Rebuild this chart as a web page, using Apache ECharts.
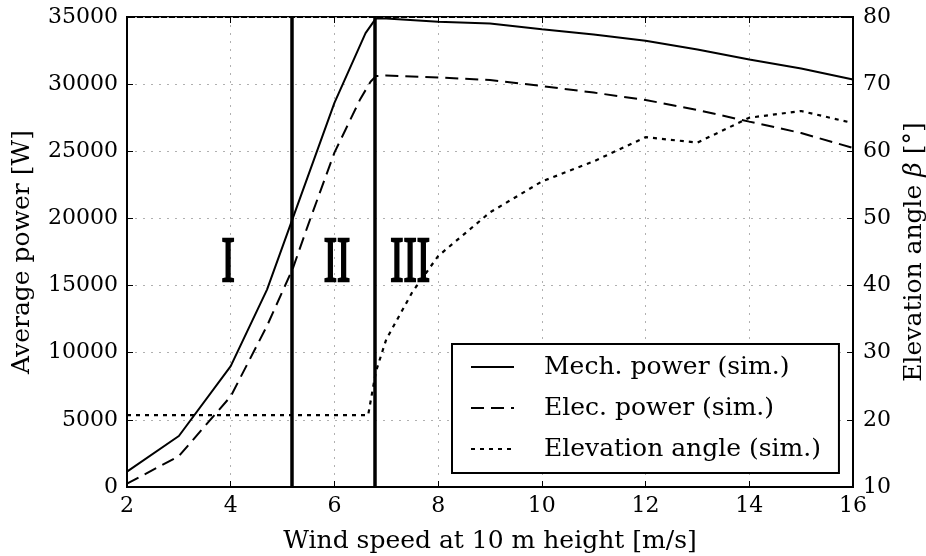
<!DOCTYPE html>
<html>
<head>
<meta charset="utf-8">
<script src="https://cdn.jsdelivr.net/npm/echarts@6/dist/echarts.min.js"></script>
<style>html,body{margin:0;padding:0;background:#fff}#c{width:926px;height:556px}</style>
</head>
<body>
<div id="c"></div>
<script>
// ---- data ----
const mechX = [2, 3, 4, 4.7, 6, 6.6, 6.8, 7, 8, 9, 10, 11, 12, 13, 14, 15, 16];
const mechY = [1150, 3800, 9000, 14700, 28600, 33800, 34900, 34880, 34650, 34520, 34080, 33700, 33230, 32580, 31840, 31170, 30350];
const elecX = [2, 3, 4, 4.7, 5.2, 5.5, 6, 6.5, 6.7, 6.8, 7, 8, 9, 10, 11, 12, 13, 14, 15, 16];
const elecY = [250, 2300, 6750, 12000, 16300, 19600, 24900, 28900, 30200, 30600, 30650, 30500, 30310, 29860, 29370, 28820, 28080, 27210, 26360, 25250];
const elevX = [2, 6.65, 6.8, 7, 7.5, 8, 9, 10, 11, 12, 13, 14, 15, 16];
const elevY = [20.7, 20.7, 27.2, 32, 39, 44.4, 50.9, 55.5, 58.5, 62.1, 61.3, 65, 66, 64.2];
const regimeBounds = [5.17, 6.78];
const regimeLabels = ['I', 'II', 'III'];
const regimeX = [3.95, 6.05, 7.46];
const regimeY = [16600, 16600, 16600];
const seriesNames = ['Mech. power (sim.)', 'Elec. power (sim.)', 'Elevation angle (sim.)'];
const xTicks = {min: 2, max: 16, interval: 2};
const yLeftTicks = {min: 0, max: 35000, interval: 5000};
const yRightTicks = {min: 10, max: 80, interval: 10};

const zip = (xs, ys) => xs.map((x, i) => [x, ys[i]]);
const FONT = 'DejaVu Serif';

const chart = echarts.init(document.getElementById('c'), null, {renderer: 'canvas'});
const grid = {left: 127, right: 73, top: 17, bottom: 69, outerBoundsMode: 'none', containLabel: false,
  show: true, borderColor: '#000', borderWidth: 2, backgroundColor: 'transparent'};
const labelStyle = {color: '#000', fontFamily: FONT, fontSize: 22, formatter: v => String(v)};
const dottedGrid = {show: true, lineStyle: {color: '#b0b0b0', type: [2, 6], width: 1}};
const nameStyle = {color: '#000', fontFamily: FONT, fontSize: 25};

chart.setOption({
  animation: false,
  backgroundColor: '#fff',
  grid: grid,
  legend: {
    data: seriesNames,
    orient: 'vertical',
    left: 452, top: 344,
    padding: [10, 18, 11, 18],
    itemWidth: 43, itemHeight: 14, itemGap: 15,
    borderColor: '#000', borderWidth: 2, borderRadius: 0,
    backgroundColor: '#fff',
    itemStyle: {color: 'rgba(0,0,0,0)', borderColor: 'rgba(0,0,0,0)', borderWidth: 0, opacity: 0},
    textStyle: {color: '#000', fontFamily: FONT, fontSize: 25, lineHeight: 26, padding: [0, 0, 0, 25]}
  },
  xAxis: [{
    type: 'value', min: xTicks.min, max: xTicks.max, interval: xTicks.interval,
    name: 'Wind speed at 10 m height [m/s]', nameLocation: 'middle', nameGap: 42,
    nameTextStyle: nameStyle,
    axisLine: {show: true, lineStyle: {color: '#000', width: 2}},
    axisTick: {show: true, inside: true, length: 6, lineStyle: {color: '#000', width: 1}},
    axisLabel: Object.assign({margin: 8}, labelStyle),
    splitLine: dottedGrid
  }, {
    type: 'value', position: 'top', min: xTicks.min, max: xTicks.max, interval: xTicks.interval,
    axisLine: {show: false},
    axisTick: {show: true, inside: true, length: 6, lineStyle: {color: '#000', width: 1}},
    axisLabel: {show: false}, splitLine: {show: false}
  }],
  yAxis: [{
    type: 'value', position: 'left', min: yLeftTicks.min, max: yLeftTicks.max, interval: yLeftTicks.interval,
    name: 'Average power [W]', nameLocation: 'middle', nameGap: 92,
    nameTextStyle: nameStyle,
    axisLine: {show: true, lineStyle: {color: '#000', width: 2}},
    axisTick: {show: true, inside: true, length: 6, lineStyle: {color: '#000', width: 1}},
    axisLabel: Object.assign({margin: 9}, labelStyle),
    splitLine: dottedGrid
  }, {
    type: 'value', position: 'right', min: yRightTicks.min, max: yRightTicks.max, interval: yRightTicks.interval,
    name: '{n|Elevation angle }{b|β}{n| [°]}', nameLocation: 'middle', nameGap: 33, nameRotate: 90,
    nameTextStyle: Object.assign({}, nameStyle, {
      rich: {n: {fontFamily: FONT, fontSize: 25, color: '#000'}, b: {fontFamily: FONT, fontSize: 25, fontStyle: 'italic', color: '#000'}}}),
    axisLine: {show: true, lineStyle: {color: '#000', width: 2}},
    axisTick: {show: true, inside: true, length: 6, lineStyle: {color: '#000', width: 1}},
    axisLabel: Object.assign({margin: 10}, labelStyle),
    splitLine: {show: false}
  }],
  series: [{
    name: seriesNames[0], type: 'line', xAxisIndex: 0, yAxisIndex: 0,
    data: zip(mechX, mechY), symbol: 'none', smooth: false,
    lineStyle: {color: '#000', width: 2, type: 'solid'}, itemStyle: {color: '#000'},
    markLine: {
      silent: true, symbol: ['none', 'none'], label: {show: false},
      lineStyle: {color: '#000', width: 3.5, type: 'solid'},
      data: regimeBounds.map(v => ({xAxis: v}))
    }
  }, {
    name: seriesNames[1], type: 'line', xAxisIndex: 0, yAxisIndex: 0,
    data: zip(elecX, elecY), symbol: 'none',
    lineStyle: {color: '#000', width: 2, type: [13, 7]}, itemStyle: {color: '#000'}
  }, {
    name: seriesNames[2], type: 'line', xAxisIndex: 0, yAxisIndex: 1,
    data: zip(elevX, elevY), symbol: 'none',
    lineStyle: {color: '#000', width: 2.2, type: [4, 5]}, itemStyle: {color: '#000'}
  }, {
    name: 'regimes', type: 'custom', xAxisIndex: 0, yAxisIndex: 0, silent: true,
    data: regimeX.map((x, i) => [x, regimeY[i], i]),
    renderItem: function (params, api) {
      const p = api.coord([api.value(0), api.value(1)]);
      const idx = api.value(2);
      return {
        type: 'text', x: p[0], y: p[1], scaleX: 0.62, scaleY: 1,
        style: {text: regimeLabels[idx], fill: '#000', stroke: '#000', lineWidth: 2.4,
          font: '64px "Liberation Serif"', align: 'center', verticalAlign: 'middle'}
      };
    }
  }]
});
</script>
</body>
</html>
